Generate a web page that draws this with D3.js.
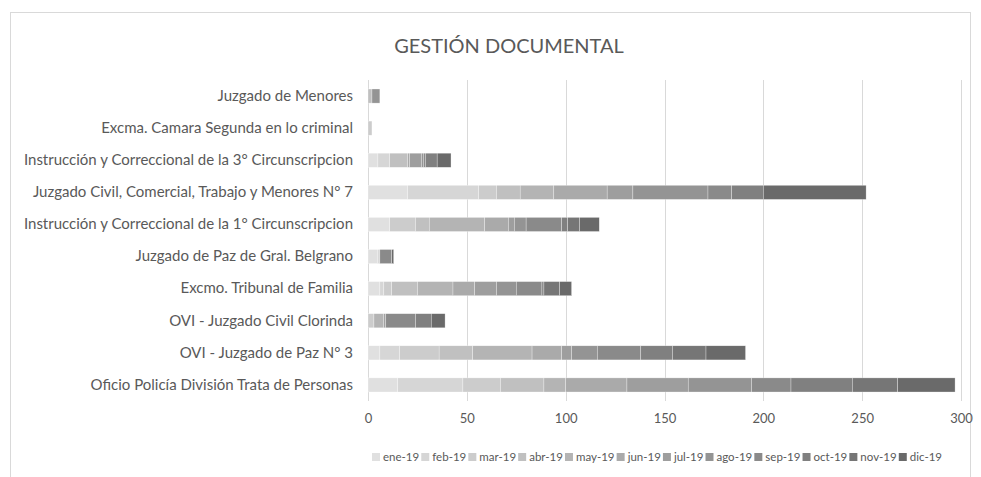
<!DOCTYPE html>
<html>
<head>
<meta charset="utf-8">
<script src="https://cdn.jsdelivr.net/npm/d3@7/dist/d3.min.js"></script>
<style>
body { margin: 0; background: #fff; }
text { font-family: Lato, "Open Sans", sans-serif; fill: #595959; }
</style>
</head>
<body>
<script>
var w = 981, h = 477;

var categories = [
    'Juzgado de Menores',
    'Excma. Camara Segunda en lo criminal',
    'Instrucción y Correccional de la 3° Circunscripcion',
    'Juzgado Civil, Comercial, Trabajo y Menores N° 7',
    'Instrucción y Correccional de la 1° Circunscripcion',
    'Juzgado de Paz de Gral. Belgrano',
    'Excmo. Tribunal de Familia',
    'OVI - Juzgado Civil Clorinda',
    'OVI - Juzgado de Paz N° 3',
    'Oficio Policía División Trata de Personas'
];
var months = ['ene-19', 'feb-19', 'mar-19', 'abr-19', 'may-19', 'jun-19',
              'jul-19', 'ago-19', 'sep-19', 'oct-19', 'nov-19', 'dic-19'];

// one array per month, same order as categories
var ene = [0, 0, 5, 20, 11, 5, 6, 0, 6, 15];
var feb = [0, 0, 6, 36, 0, 1, 2, 0, 10, 33];
var mar = [0, 2, 0, 9, 13, 0, 4, 3, 20, 19];
var abr = [2, 0, 9, 12, 7, 0, 13, 0, 17, 22];
var may = [0, 0, 0, 17, 28, 0, 18, 5, 30, 11];
var jun = [0, 0, 1, 27, 12, 0, 11, 0, 15, 31];
var jul = [0, 0, 6, 13, 3, 0, 11, 1, 5, 31];
var ago = [4, 0, 1, 38, 6, 0, 10, 0, 13, 32];
var sep = [0, 0, 1, 12, 18, 6, 13, 15, 22, 20];
var oct = [0, 0, 6, 16, 3, 0, 1, 8, 16, 31];
var nov = [0, 0, 0, 0, 6, 0, 8, 0, 17, 23];
var dic = [0, 0, 7, 52, 10, 1, 6, 7, 20, 29];

var xTicks = [0, 50, 100, 150, 200, 250, 300];
var grays = ['#e0e0e0', '#d6d6d6', '#cccccc', '#c0c0c0', '#b4b4b4', '#aaaaaa',
             '#9e9e9e', '#949494', '#8a8a8a', '#808080', '#767676', '#6a6a6a'];

var series = [ene, feb, mar, abr, may, jun, jul, ago, sep, oct, nov, dic];
var table = categories.map(function(c, i) {
    var row = { cat: c };
    months.forEach(function(m, j) { row[m] = series[j][i]; });
    return row;
});

var svg = d3.select('body').append('svg')
    .attr('width', w)
    .attr('height', h);

svg.append('rect')
    .attr('x', 10.5).attr('y', 12.5)
    .attr('width', 960).attr('height', 480)
    .attr('fill', 'none')
    .attr('stroke', '#d9d9d9');

var x = d3.scaleLinear().domain([0, 300]).range([368, 961]);
var y = d3.scaleBand().domain(categories).range([80, 401]).paddingInner(0.56).paddingOuter(0.28);
var color = d3.scaleOrdinal().domain(months).range(grays);

svg.append('text')
    .attr('x', 509).attr('y', 53)
    .attr('text-anchor', 'middle')
    .style('font-size', '20px')
    .text('GESTIÓN DOCUMENTAL');

// grid
svg.append('g').selectAll('line')
    .data(xTicks)
    .enter()
        .append('line')
        .attr('x1', d => Math.round(x(d)) + 0.5)
        .attr('x2', d => Math.round(x(d)) + 0.5)
        .attr('y1', 80).attr('y2', 401)
        .attr('stroke', '#d9d9d9');

var stack = d3.stack().keys(months)(table);

svg.append('g').selectAll('g')
    .data(stack)
    .enter()
        .append('g')
        .attr('fill', d => color(d.key))
    .selectAll('rect')
    .data(d => d)
    .enter()
        .append('rect')
        .attr('x', d => x(d[0]))
        .attr('width', d => x(d[1]) - x(d[0]))
        .attr('y', d => y(d.data.cat))
        .attr('height', y.bandwidth())
        .attr('stroke', '#fff')
        .attr('stroke-width', 0.5)
        .attr('stroke-opacity', 0.6);

// axes
var xAxis = svg.append('g')
    .attr('transform', 'translate(0,401)')
    .call(d3.axisBottom(x).tickValues(xTicks).tickSize(0).tickPadding(13));
xAxis.select('.domain').remove();
xAxis.selectAll('text')
    .style('font-size', '13px')
    .attr('fill', '#595959')
    .style('font-family', 'Lato, sans-serif');

var yAxis = svg.append('g')
    .attr('transform', 'translate(368,0)')
    .call(d3.axisLeft(y).tickSize(0).tickPadding(15));
yAxis.select('.domain').remove();
yAxis.selectAll('text')
    .style('font-size', '15px')
    .attr('fill', '#595959')
    .style('font-family', 'Lato, sans-serif');

// legend, laid out from the text widths
var legend = svg.append('g').selectAll('g')
    .data(months)
    .enter()
        .append('g');
legend.append('rect')
    .attr('x', 0).attr('y', -8)
    .attr('width', 8).attr('height', 8)
    .attr('fill', d => color(d));
legend.append('text')
    .attr('x', 11).attr('y', 0)
    .style('font-size', '11.5px')
    .text(d => d);

var widths = [];
legend.select('text').each(function() { widths.push(this.getComputedTextLength() + 11); });
var total = d3.sum(widths);
var gap = (942 - 372 - total) / (months.length - 1);
var pos = 372;
legend.attr('transform', function(d, i) {
    var t = 'translate(' + pos + ',461)';
    pos += widths[i] + gap;
    return t;
});
</script>
</body>
</html>
